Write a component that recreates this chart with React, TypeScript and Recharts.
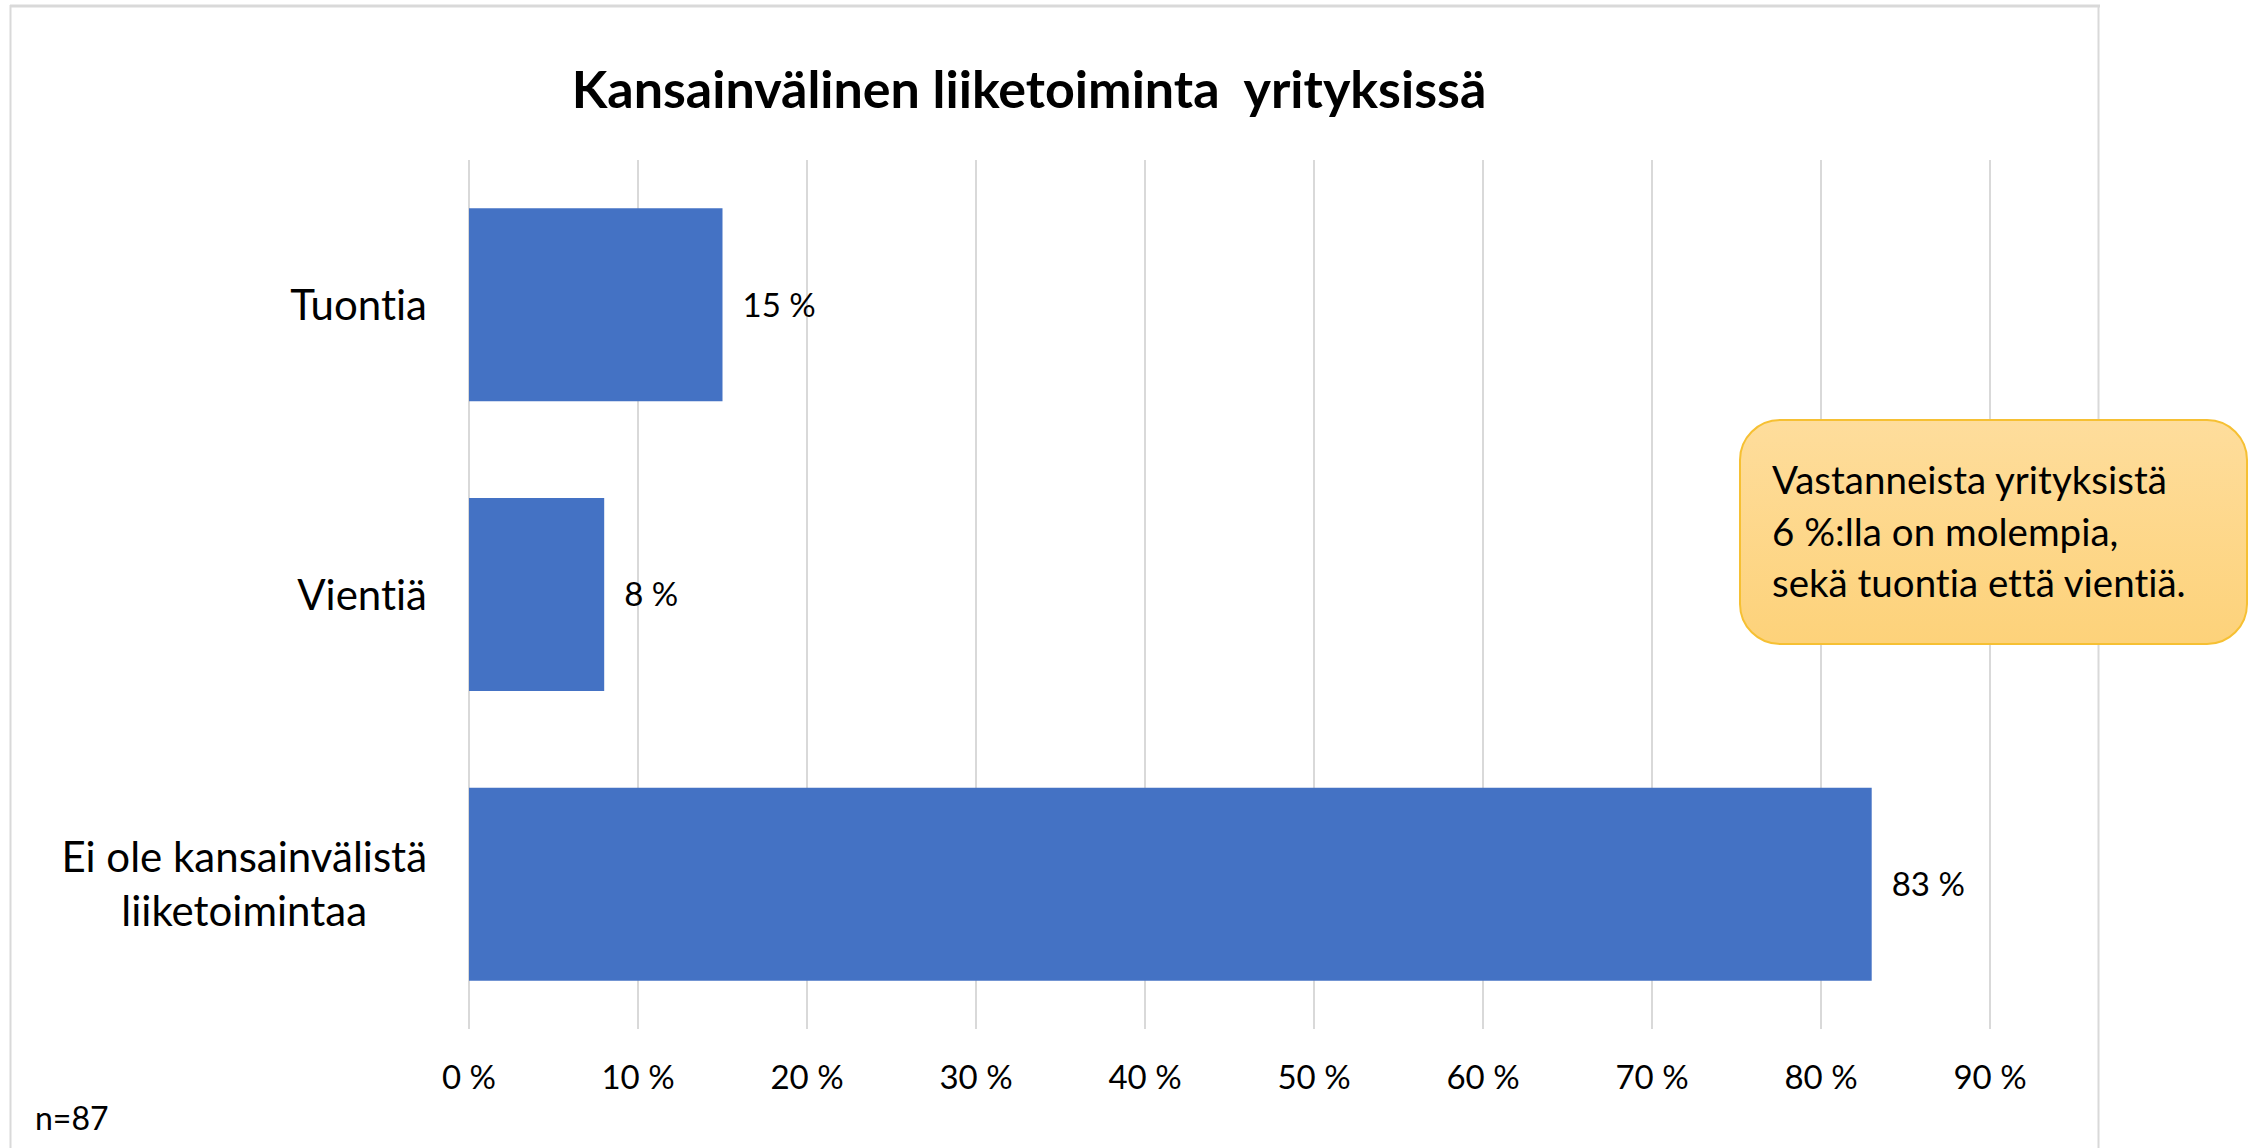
import React from 'react';
import { BarChart, Bar, XAxis, YAxis, CartesianGrid, LabelList } from 'recharts';

const categories = ['Tuontia', 'Vientiä', 'Ei ole kansainvälistä liiketoimintaa'];
const categoryLines = [['Tuontia'], ['Vientiä'], ['Ei ole kansainvälistä', 'liiketoimintaa']];
const values = [15, 8, 83];
const xTicks = [0, 10, 20, 30, 40, 50, 60, 70, 80, 90];
const title = 'Kansainvälinen liiketoiminta  yrityksissä';
const noteLines = ['Vastanneista yrityksistä', '6 %:lla on molempia,', 'sekä tuontia että vientiä.'];
const sampleLabel = 'n=87';

const data = categories.map((c, i) => ({ name: c, value: values[i] }));

const FONT = 'Lato, "Open Sans", sans-serif';
const W = 2254;
const H = 1148;
const CAT_SIZE = 42;
const TICK_SIZE = 33;
const NO_LIGA: React.CSSProperties = { fontVariantLigatures: 'none', fontFeatureSettings: '"liga" 0, "clig" 0' };

let measureCtx: CanvasRenderingContext2D | null = null;
function measure(text: string, size: number): number {
  if (!measureCtx) {
    const c = document.createElement('canvas');
    measureCtx = c.getContext('2d');
  }
  if (!measureCtx) return text.length * size * 0.5;
  measureCtx.font = `${size}px Lato`;
  return measureCtx.measureText(text).width;
}

const CatTick = (props: any) => {
  const { x, y, payload } = props;
  const idx = categories.indexOf(payload.value);
  const lines = idx >= 0 ? categoryLines[idx] : [String(payload.value)];
  const lh = 54;
  if (lines.length === 1) {
    return (
      <text x={x} y={y + CAT_SIZE * 0.36} textAnchor="end" fontFamily={FONT} fontSize={CAT_SIZE} fill="#000" style={NO_LIGA}>
        {lines[0]}
      </text>
    );
  }
  const maxW = Math.max(...lines.map((l) => measure(l, CAT_SIZE)));
  const cx = x - maxW / 2;
  return (
    <g>
      {lines.map((l, i) => (
        <text
          key={i}
          x={cx}
          y={y + CAT_SIZE * 0.36 + (i - (lines.length - 1) / 2) * lh}
          textAnchor="middle"
          fontFamily={FONT}
          fontSize={CAT_SIZE}
          fill="#000"
          style={NO_LIGA}
        >
          {l}
        </text>
      ))}
    </g>
  );
};

const XTick = (props: any) => {
  const { x, y, payload } = props;
  return (
    <text x={x} y={y + 60} textAnchor="middle" fontFamily={FONT} fontSize={TICK_SIZE} fill="#000">
      {`${payload.value} %`}
    </text>
  );
};

export default function App() {
  return (
    <div style={{ position: 'absolute', left: 0, top: 0, width: W, height: H, overflow: 'hidden', background: '#fff' }}>
      <BarChart
        width={W}
        height={H}
        data={data}
        layout="vertical"
        margin={{ top: 160, right: 264, bottom: 59, left: 0 }}
        barCategoryGap="16.7%"
      >
        <CartesianGrid horizontal={false} stroke="#d9d9d9" strokeWidth={2} />
        <XAxis
          type="number"
          domain={[0, 90]}
          ticks={xTicks}
          interval={0}
          axisLine={false}
          tickLine={false}
          tickSize={0}
          tickMargin={0}
          height={60}
          tick={<XTick />}
        />
        <YAxis
          type="category"
          dataKey="name"
          width={469}
          axisLine={false}
          tickLine={false}
          tickSize={0}
          tickMargin={42}
          tick={<CatTick />}
          interval={0}
        />
        <Bar dataKey="value" fill="#4472c4" isAnimationActive={false}>
          <LabelList
            dataKey="value"
            position="right"
            offset={20}
            formatter={(v: any) => `${v} %`}
            style={{ fontFamily: FONT, fontSize: TICK_SIZE, fill: '#000' }}
          />
        </Bar>
      </BarChart>
      <svg
        width={W}
        height={H}
        style={{ position: 'absolute', left: 0, top: 0, pointerEvents: 'none' }}
      >
        <defs>
          <linearGradient id="noteGrad" x1="0" y1="0" x2="0" y2="1">
            <stop offset="0%" stopColor="#fedd9c" />
            <stop offset="100%" stopColor="#fdd27a" />
          </linearGradient>
        </defs>
        <rect x={10.5} y={6} width={2088} height={1200} fill="none" stroke="#d9d9d9" strokeWidth={2} />
        <line x1={10} y1={6} x2={2100} y2={6} stroke="#d9d9d9" strokeWidth={3} />
        <text
          x={1029}
          y={108}
          textAnchor="middle"
          fontFamily={FONT}
          fontWeight="bold"
          fontSize={52}
          fill="#000"
          style={{ whiteSpace: 'pre', ...NO_LIGA }}
        >
          {title}
        </text>
        <text x={35} y={1130} fontFamily={FONT} fontSize={32} fill="#000">
          {sampleLabel}
        </text>
        <rect
          x={1740}
          y={420}
          width={507}
          height={224}
          rx={40}
          ry={40}
          fill="url(#noteGrad)"
          stroke="#f6c033"
          strokeWidth={2}
        />
        {noteLines.map((l, i) => (
          <text key={i} x={1772} y={494 + i * 51.5} fontFamily={FONT} fontSize={38.5} fill="#000" style={NO_LIGA}>
            {l}
          </text>
        ))}
      </svg>
    </div>
  );
}
